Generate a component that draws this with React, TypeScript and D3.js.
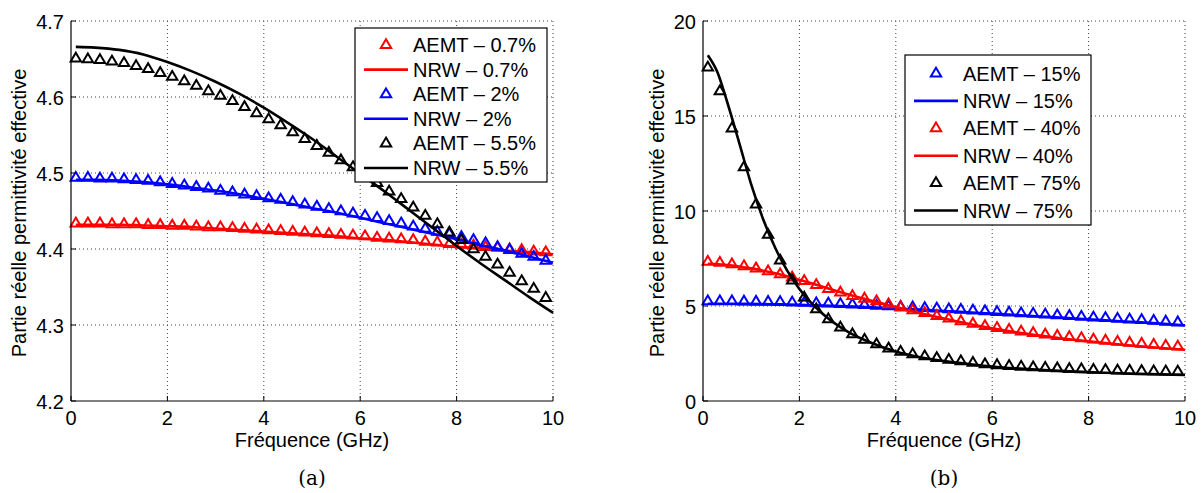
import React from 'react';
import * as d3 from 'd3';

// ---------- data ----------
const aemtFreq = [0.1, 0.35, 0.6, 0.85, 1.1, 1.35, 1.6, 1.85, 2.1, 2.35, 2.6, 2.85, 3.1, 3.35, 3.6, 3.85, 4.1, 4.35, 4.6, 4.85,
  5.1, 5.35, 5.6, 5.85, 6.1, 6.35, 6.6, 6.85, 7.1, 7.35, 7.6, 7.85, 8.1, 8.35, 8.6, 8.85, 9.1, 9.35, 9.6, 9.85];

const nrwFreqA = [0.1, 0.5, 1, 1.5, 2, 2.5, 3, 3.5, 4, 4.5, 5, 5.5, 6, 6.5, 7, 7.5, 8, 8.5, 9, 9.5, 10];
const nrwFreqB = [0.1, 0.3, 0.5, 0.75, 1, 1.25, 1.5, 1.75, 2, 2.5, 3, 3.5, 4, 4.5, 5, 5.5, 6, 6.5, 7, 7.5, 8, 8.5, 9, 9.5, 10];

const xTicks = [0, 2, 4, 6, 8, 10];
const yTicksA = [4.2, 4.3, 4.4, 4.5, 4.6, 4.7];
const yTicksB = [0, 5, 10, 15, 20];

// panel (a)
const aemtA07 = [4.435, 4.435, 4.435, 4.434, 4.434, 4.434, 4.433, 4.433, 4.432, 4.432, 4.431, 4.430, 4.430, 4.429, 4.428, 4.427, 4.426, 4.425, 4.424, 4.423,
  4.422, 4.421, 4.420, 4.419, 4.418, 4.416, 4.415, 4.414, 4.413, 4.411, 4.410, 4.408, 4.407, 4.406, 4.404, 4.403, 4.401, 4.400, 4.398, 4.397];
const nrwA07 = [4.432, 4.432, 4.432, 4.431, 4.430, 4.429, 4.427, 4.425, 4.423, 4.421, 4.419, 4.417, 4.414, 4.412, 4.409, 4.406, 4.403, 4.401, 4.398, 4.396, 4.393];
const aemtA2 = [4.495, 4.495, 4.494, 4.494, 4.493, 4.492, 4.491, 4.489, 4.487, 4.485, 4.483, 4.481, 4.478, 4.476, 4.473, 4.471, 4.468, 4.466, 4.463, 4.460,
  4.457, 4.454, 4.451, 4.448, 4.445, 4.442, 4.438, 4.435, 4.431, 4.428, 4.424, 4.421, 4.417, 4.413, 4.409, 4.404, 4.400, 4.395, 4.391, 4.386];
const nrwA2 = [4.491, 4.491, 4.490, 4.488, 4.485, 4.481, 4.477, 4.472, 4.466, 4.460, 4.454, 4.448, 4.441, 4.434, 4.427, 4.420, 4.413, 4.405, 4.398, 4.390, 4.382];
const aemtA55 = [4.652, 4.651, 4.650, 4.648, 4.646, 4.642, 4.638, 4.633, 4.628, 4.622, 4.616, 4.609, 4.603, 4.596, 4.588, 4.580, 4.572, 4.564, 4.555, 4.546,
  4.537, 4.528, 4.518, 4.509, 4.499, 4.488, 4.477, 4.467, 4.456, 4.445, 4.434, 4.423, 4.413, 4.401, 4.391, 4.381, 4.370, 4.359, 4.349, 4.337];
const nrwA55 = [4.666, 4.665, 4.662, 4.656, 4.646, 4.634, 4.620, 4.604, 4.586, 4.566, 4.545, 4.522, 4.499, 4.476, 4.452, 4.428, 4.404, 4.381, 4.359, 4.337, 4.316];

// panel (b)
const aemtB15 = [5.30, 5.30, 5.30, 5.29, 5.28, 5.27, 5.26, 5.24, 5.22, 5.20, 5.18, 5.16, 5.13, 5.10, 5.07, 5.04, 5.01, 4.98, 4.95, 4.92,
  4.88, 4.85, 4.81, 4.78, 4.74, 4.71, 4.67, 4.64, 4.60, 4.56, 4.53, 4.49, 4.45, 4.42, 4.38, 4.34, 4.31, 4.27, 4.23, 4.19];
const nrwB15 = [5.12, 5.12, 5.12, 5.11, 5.11, 5.10, 5.09, 5.08, 5.06, 5.02, 4.98, 4.93, 4.87, 4.81, 4.74, 4.67, 4.60, 4.53, 4.45, 4.38, 4.30, 4.22, 4.15, 4.07, 3.98];
const aemtB40 = [7.38, 7.33, 7.25, 7.15, 7.03, 6.88, 6.72, 6.55, 6.37, 6.16, 5.95, 5.76, 5.58, 5.44, 5.30, 5.14, 4.98, 4.83, 4.68, 4.53,
  4.39, 4.25, 4.12, 4.00, 3.90, 3.80, 3.71, 3.63, 3.55, 3.48, 3.42, 3.36, 3.29, 3.23, 3.17, 3.12, 3.06, 3.01, 2.96, 2.92];
const nrwB40 = [7.22, 7.20, 7.16, 7.08, 6.98, 6.86, 6.72, 6.56, 6.38, 6.00, 5.62, 5.27, 4.95, 4.63, 4.34, 4.07, 3.83, 3.62, 3.44, 3.28, 3.14, 3.01, 2.89, 2.79, 2.70];
const aemtB75 = [17.6, 16.35, 14.4, 12.35, 10.4, 8.8, 7.45, 6.4, 5.5, 4.88, 4.35, 3.92, 3.56, 3.28, 3.04, 2.82, 2.64, 2.51, 2.41, 2.31,
  2.22, 2.14, 2.06, 1.99, 1.94, 1.90, 1.86, 1.83, 1.80, 1.77, 1.74, 1.72, 1.70, 1.68, 1.66, 1.65, 1.63, 1.62, 1.61, 1.60];
const nrwB75 = [18.2, 17.3, 15.75, 13.6, 11.4, 9.55, 8.05, 6.85, 5.9, 4.55, 3.65, 3.05, 2.6, 2.3, 2.1, 1.95, 1.82, 1.72, 1.64, 1.57, 1.52, 1.47, 1.43, 1.40, 1.37];

const labelsA = ['AEMT – 0.7%', 'NRW – 0.7%', 'AEMT – 2%', 'NRW – 2%', 'AEMT – 5.5%', 'NRW – 5.5%'];
const labelsB = ['AEMT – 15%', 'NRW – 15%', 'AEMT – 40%', 'NRW – 40%', 'AEMT – 75%', 'NRW – 75%'];

const RED = '#ff0000';
const BLUE = '#0000ff';
const BLACK = '#000000';
const FONT = '"Liberation Sans", Arial, Helvetica, sans-serif';
const TRI = 'M0,-4.8 L5.2,4 L-5.2,4 Z';

type Series = { kind: 'aemt' | 'nrw'; color: string; freq: number[]; values: number[]; label: string };

const seriesA: Series[] = [
  { kind: 'aemt', color: RED, freq: aemtFreq, values: aemtA07, label: labelsA[0] },
  { kind: 'nrw', color: RED, freq: nrwFreqA, values: nrwA07, label: labelsA[1] },
  { kind: 'aemt', color: BLUE, freq: aemtFreq, values: aemtA2, label: labelsA[2] },
  { kind: 'nrw', color: BLUE, freq: nrwFreqA, values: nrwA2, label: labelsA[3] },
  { kind: 'aemt', color: BLACK, freq: aemtFreq, values: aemtA55, label: labelsA[4] },
  { kind: 'nrw', color: BLACK, freq: nrwFreqA, values: nrwA55, label: labelsA[5] },
];
const seriesB: Series[] = [
  { kind: 'aemt', color: BLUE, freq: aemtFreq, values: aemtB15, label: labelsB[0] },
  { kind: 'nrw', color: BLUE, freq: nrwFreqB, values: nrwB15, label: labelsB[1] },
  { kind: 'aemt', color: RED, freq: aemtFreq, values: aemtB40, label: labelsB[2] },
  { kind: 'nrw', color: RED, freq: nrwFreqB, values: nrwB40, label: labelsB[3] },
  { kind: 'aemt', color: BLACK, freq: aemtFreq, values: aemtB75, label: labelsB[4] },
  { kind: 'nrw', color: BLACK, freq: nrwFreqB, values: nrwB75, label: labelsB[5] },
];

type PanelProps = {
  x0: number; x1: number; y0: number; y1: number;
  yDomain: [number, number]; yTicks: number[]; yFmt: (v: number) => string;
  series: Series[];
  legend: { left: number; top: number; width: number; height: number; firstRow: number; step: number; lineX0: number; lineX1: number; textX: number };
  caption: string; ylabelX: number;
};

function Panel(p: PanelProps) {
  const x = d3.scaleLinear().domain([0, 10]).range([p.x0, p.x1]);
  const y = d3.scaleLinear().domain(p.yDomain).range([p.y1, p.y0]);
  const line = d3.line<[number, number]>().x(d => x(d[0])).y(d => y(d[1])).curve(d3.curveMonotoneX);
  const cx = (p.x0 + p.x1) / 2;
  const cy = (p.y0 + p.y1) / 2;
  const L = p.legend;
  return (
    <g>
      {/* grid */}
      {xTicks.filter(t => t !== 0).map(t => (
        <line key={'gx' + t} x1={x(t)} x2={x(t)} y1={p.y0} y2={p.y1} stroke="#444" strokeWidth={1} strokeDasharray="1 3" />
      ))}
      {p.yTicks.filter((t, i) => i !== 0).map(t => (
        <line key={'gy' + t} x1={p.x0} x2={p.x1} y1={y(t)} y2={y(t)} stroke="#444" strokeWidth={1} strokeDasharray="1 3" />
      ))}
      {/* data */}
      {p.series.map((s, i) =>
        s.kind === 'nrw' ? (
          <path key={'s' + i} d={line(s.freq.map((f, j) => [f, s.values[j]] as [number, number])) || ''} fill="none" stroke={s.color} strokeWidth={2.6} strokeLinejoin="round" />
        ) : (
          <g key={'s' + i}>
            {s.freq.map((f, j) => (
              <path key={j} d={TRI} transform={`translate(${x(f)},${y(s.values[j])})`} fill="none" stroke={s.color} strokeWidth={2} strokeLinejoin="miter" />
            ))}
          </g>
        )
      )}
      {/* axes */}
      <line x1={p.x0} x2={p.x0} y1={p.y0} y2={p.y1} stroke="#000" strokeWidth={1.2} />
      <line x1={p.x0} x2={p.x1} y1={p.y1} y2={p.y1} stroke="#000" strokeWidth={1.2} />
      {xTicks.map(t => (
        <g key={'tx' + t}>
          <line x1={x(t)} x2={x(t)} y1={p.y1} y2={p.y1 - 5} stroke="#000" strokeWidth={1} />
          <text x={x(t)} y={p.y1 + 17} textAnchor="middle" dominantBaseline="central" fontFamily={FONT} fontSize={20}>{t}</text>
        </g>
      ))}
      {p.yTicks.map(t => (
        <g key={'ty' + t}>
          <line x1={p.x0} x2={p.x0 + 5} y1={y(t)} y2={y(t)} stroke="#000" strokeWidth={1} />
          <text x={p.x0 - 7} y={y(t) + 1} textAnchor="end" dominantBaseline="central" fontFamily={FONT} fontSize={20}>{p.yFmt(t)}</text>
        </g>
      ))}
      <text x={cx} y={p.y1 + 39} textAnchor="middle" dominantBaseline="central" fontFamily={FONT} fontSize={20}>Fréquence (GHz)</text>
      <text transform={`translate(${p.ylabelX},${cy + 2}) rotate(-90)`} textAnchor="middle" dominantBaseline="central" fontFamily={FONT} fontSize={20}>Partie réelle permittivité effective</text>
      <text x={cx} y={p.y1 + 77} textAnchor="middle" dominantBaseline="central" fontFamily='"DejaVu Serif", "Liberation Serif", serif' fontSize={20}>{p.caption}</text>
      {/* legend */}
      <rect x={L.left} y={L.top} width={L.width} height={L.height} fill="#fff" stroke="#000" strokeWidth={1.2} />
      {p.series.map((s, i) => {
        const ry = L.firstRow + i * L.step;
        return (
          <g key={'l' + i}>
            {s.kind === 'nrw' ? (
              <line x1={L.lineX0} x2={L.lineX1} y1={ry} y2={ry} stroke={s.color} strokeWidth={2.6} />
            ) : (
              <path d={TRI} transform={`translate(${(L.lineX0 + L.lineX1) / 2},${ry - 1})`} fill="none" stroke={s.color} strokeWidth={2} />
            )}
            <text x={L.textX} y={ry} dominantBaseline="central" fontFamily={FONT} fontSize={20}>{s.label}</text>
          </g>
        );
      })}
    </g>
  );
}

export default function App() {
  return (
    <svg width={1202} height={493} style={{ position: 'absolute', left: 0, top: 0, background: '#fff' }}>
      <rect x={0} y={0} width={1202} height={493} fill="#fff" />
      <Panel
        x0={71} x1={553} y0={21} y1={401}
        yDomain={[4.2, 4.7]} yTicks={yTicksA} yFmt={v => v.toFixed(1)}
        series={seriesA}
        legend={{ left: 355, top: 28, width: 192, height: 154, firstRow: 45, step: 24.6, lineX0: 364, lineX1: 408, textX: 413 }}
        caption="(a)" ylabelX={19}
      />
      <Panel
        x0={703} x1={1185} y0={21} y1={401}
        yDomain={[0, 20]} yTicks={yTicksB} yFmt={v => String(v)}
        series={seriesB}
        legend={{ left: 905, top: 55, width: 186, height: 170, firstRow: 73.5, step: 27.4, lineX0: 914, lineX1: 958, textX: 963 }}
        caption="(b)" ylabelX={657}
      />
    </svg>
  );
}
